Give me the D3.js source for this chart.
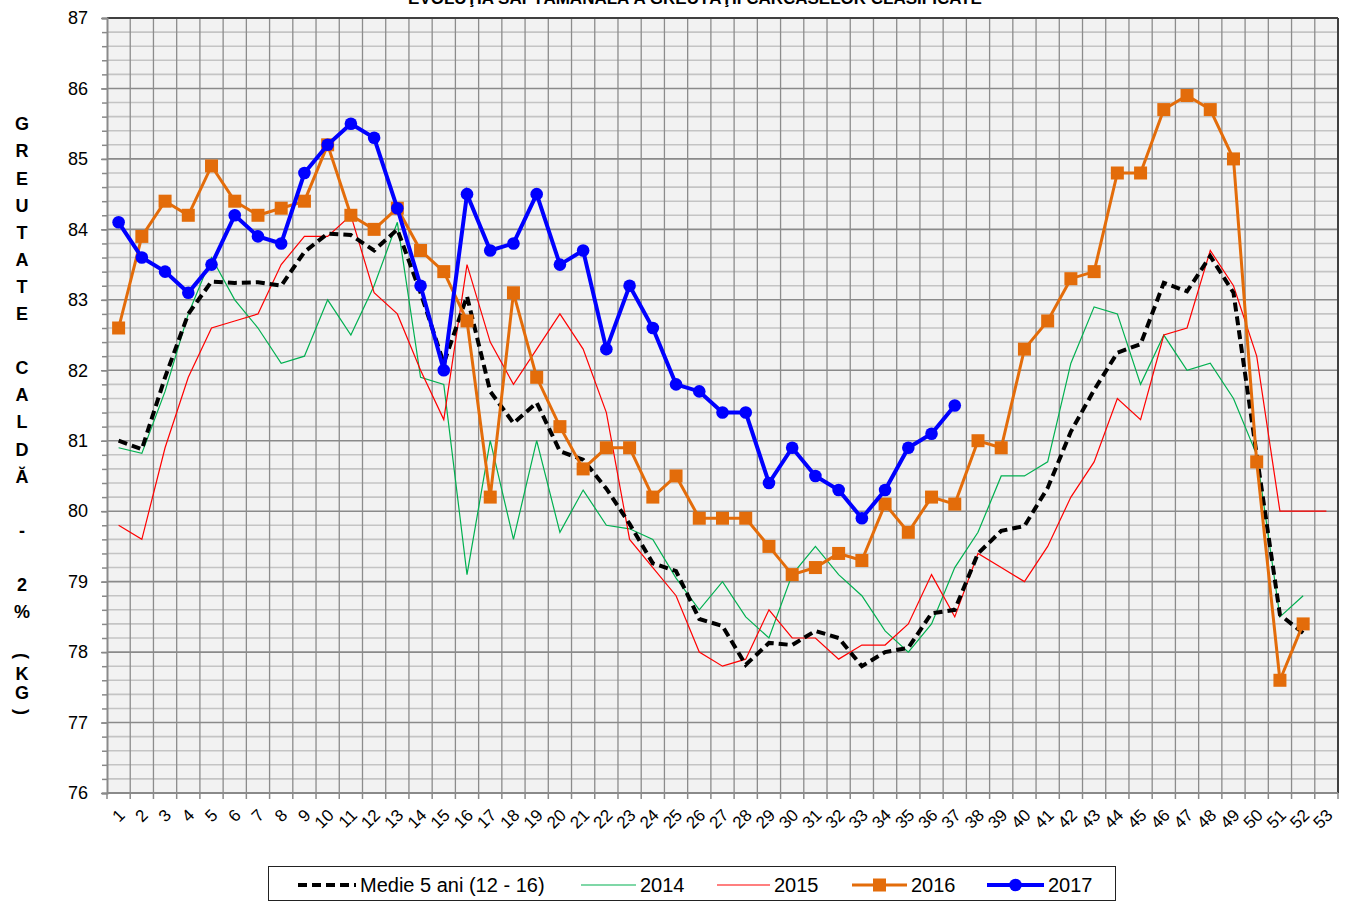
<!DOCTYPE html>
<html lang="ro">
<head>
<meta charset="UTF-8">
<title>Evoluţia săptămânală a greutăţii carcaselor clasificate</title>
<script src="https://cdn.jsdelivr.net/npm/d3@7"></script>
<style>
    body { margin: 0; background: #fff; }
    svg { display: block; font-family: "Liberation Sans", Arial, sans-serif; }
    .ytick text { font-size: 18px; fill: #000; }
    .xtick text { font-size: 17px; fill: #000; }
    .legend text { font-size: 20px; fill: #000; }
</style>
</head>
<body>
<div id="chart"></div>
<script>
    const weeks = ["1","2","3","4","5","6","7","8","9","10","11","12","13","14","15","16","17","18","19","20",
        "21","22","23","24","25","26","27","28","29","30","31","32","33","34","35","36","37","38","39","40",
        "41","42","43","44","45","46","47","48","49","50","51","52","53"];

    const medie = [81.0, 80.88, 81.9, 82.8, 83.26, 83.24, 83.25, 83.2, 83.68, 83.94, 83.92, 83.7, 84.0, 83.1,
        82.1, 83.05, 81.7, 81.25, 81.54, 80.85, 80.73, 80.32, 79.82, 79.26, 79.15, 78.47, 78.37, 77.82, 78.13,
        78.1, 78.3, 78.2, 77.8, 78.0, 78.06, 78.55, 78.6, 79.4, 79.72, 79.79, 80.33, 81.13, 81.72, 82.25, 82.37,
        83.24, 83.12, 83.62, 83.1, 80.8, 78.53, 78.27];

    const y2014 = [80.9, 80.82, 81.7, 82.8, 83.6, 83.0, 82.6, 82.1, 82.2, 83.0, 82.5, 83.2, 84.1, 81.9, 81.8,
        79.1, 81.0, 79.6, 81.0, 79.7, 80.3, 79.8, 79.75, 79.6, 79.05, 78.6, 79.0, 78.5, 78.2, 79.1, 79.5, 79.1,
        78.8, 78.3, 78.0, 78.4, 79.2, 79.7, 80.5, 80.5, 80.7, 82.1, 82.9, 82.8, 81.8, 82.5, 82.0, 82.1, 81.6,
        80.8, 78.5, 78.8];

    const y2015 = [79.8, 79.6, 80.9, 81.9, 82.6, 82.7, 82.8, 83.5, 83.9, 83.9, 84.2, 83.1, 82.8, 82.0, 81.3,
        83.5, 82.4, 81.8, 82.3, 82.8, 82.3, 81.4, 79.6, 79.2, 78.8, 78.0, 77.8, 77.9, 78.6, 78.2, 78.2, 77.9,
        78.1, 78.1, 78.4, 79.1, 78.5, 79.4, 79.2, 79.0, 79.5, 80.2, 80.7, 81.6, 81.3, 82.5, 82.6, 83.7, 83.2,
        82.2, 80.0, 80.0, 80.0];

    const y2016 = [82.6, 83.9, 84.4, 84.2, 84.9, 84.4, 84.2, 84.3, 84.4, 85.2, 84.2, 84.0, 84.3, 83.7, 83.4,
        82.7, 80.2, 83.1, 81.9, 81.2, 80.6, 80.9, 80.9, 80.2, 80.5, 79.9, 79.9, 79.9, 79.5, 79.1, 79.2, 79.4,
        79.3, 80.1, 79.7, 80.2, 80.1, 81.0, 80.9, 82.3, 82.7, 83.3, 83.4, 84.8, 84.8, 85.7, 85.9, 85.7, 85.0,
        80.7, 77.6, 78.4];

    const y2017 = [84.1, 83.6, 83.4, 83.1, 83.5, 84.2, 83.9, 83.8, 84.8, 85.2, 85.5, 85.3, 84.3, 83.2, 82.0,
        84.5, 83.7, 83.8, 84.5, 83.5, 83.7, 82.3, 83.2, 82.6, 81.8, 81.7, 81.4, 81.4, 80.4, 80.9, 80.5, 80.3,
        79.9, 80.3, 80.9, 81.1, 81.5];

    const yMajor = [76, 77, 78, 79, 80, 81, 82, 83, 84, 85, 86, 87];
    const yTitle = "GREUTATE CALDĂ - 2%";

    const W = 1346, H = 902;
    const mLeft = 107, mRight = 1338, mTop = 18, mBottom = 793;

    const svg = d3.select("#chart").append("svg")
        .attr("width", W)
        .attr("height", H);

    const x = d3.scaleBand().domain(weeks).range([mLeft, mRight]);
    const cx = w => x(w) + x.bandwidth() / 2;
    const y = d3.scaleLinear().domain([76, 87]).range([mBottom, mTop]);
    const yMinor = d3.range(760, 871, 2).map(v => v / 10);

    // plot background
    svg.append("rect")
        .attr("x", mLeft).attr("y", mTop)
        .attr("width", mRight - mLeft).attr("height", mBottom - mTop)
        .attr("fill", "#f2f2f2");

    // horizontal grid
    svg.append("g").selectAll("line")
        .data(yMinor.filter(v => Math.abs(v - Math.round(v)) > 0.01))
        .enter().append("line")
        .attr("x1", mLeft).attr("x2", mRight)
        .attr("y1", d => y(d)).attr("y2", d => y(d))
        .attr("stroke", "#c4c4c4").attr("stroke-width", 1.6);

    // vertical grid
    svg.append("g").selectAll("line")
        .data(weeks.slice(1))
        .enter().append("line")
        .attr("x1", d => x(d)).attr("x2", d => x(d))
        .attr("y1", mTop).attr("y2", mBottom)
        .attr("stroke", "#8c8c8c").attr("stroke-width", 1.3);

    svg.append("g").selectAll("line")
        .data(yMajor)
        .enter().append("line")
        .attr("x1", mLeft).attr("x2", mRight)
        .attr("y1", d => y(d)).attr("y2", d => y(d))
        .attr("stroke", "#8a8a8a").attr("stroke-width", 1.6);

    // frame
    svg.append("line").attr("x1", mLeft).attr("x2", mRight).attr("y1", mTop).attr("y2", mTop)
        .attr("stroke", "#404040").attr("stroke-width", 2);
    svg.append("line").attr("x1", mRight).attr("x2", mRight).attr("y1", mTop).attr("y2", mBottom)
        .attr("stroke", "#404040").attr("stroke-width", 2);

    // y axis
    const yAxisMinor = d3.axisLeft(y).tickValues(yMinor).tickSize(5).tickFormat("");
    svg.append("g").attr("transform", `translate(${mLeft},0)`).call(yAxisMinor)
        .call(g => g.selectAll("line").attr("stroke", "#8a8a8a").attr("stroke-width", 1.5))
        .call(g => g.select(".domain").attr("stroke", "#8a8a8a").attr("stroke-width", 2));

    const yAxis = d3.axisLeft(y).tickValues(yMajor).tickSize(6).tickPadding(13).tickFormat(d3.format("d"));
    svg.append("g").attr("class", "ytick").attr("transform", `translate(${mLeft},0)`).call(yAxis)
        .call(g => g.select(".domain").remove())
        .call(g => g.selectAll("line").attr("stroke", "#8a8a8a").attr("stroke-width", 1.5))
        .call(g => g.attr("font-family", null).attr("font-size", null));

    // x axis
    svg.append("line").attr("x1", mLeft).attr("x2", mRight).attr("y1", mBottom).attr("y2", mBottom)
        .attr("stroke", "#8a8a8a").attr("stroke-width", 2);
    svg.append("g").selectAll("line")
        .data(weeks.concat(["end"]))
        .enter().append("line")
        .attr("x1", (d, i) => mLeft + i * x.bandwidth())
        .attr("x2", (d, i) => mLeft + i * x.bandwidth())
        .attr("y1", mBottom).attr("y2", mBottom + 6)
        .attr("stroke", "#8a8a8a").attr("stroke-width", 1.5);

    svg.append("g").attr("class", "xtick").selectAll("text")
        .data(weeks)
        .enter().append("text")
        .attr("transform", d => `translate(${cx(d) + 3},${mBottom + 19}) rotate(-45)`)
        .attr("text-anchor", "end")
        .attr("dy", "0.35em")
        .text(d => d);

    // title (clipped at the top edge, as in the source image)
    svg.append("text")
        .attr("x", 695).attr("y", 4)
        .attr("text-anchor", "middle")
        .attr("font-size", 17).attr("font-weight", "bold")
        .text("EVOLUŢIA SĂPTĂMÂNALĂ A GREUTĂŢII CARCASELOR CLASIFICATE");

    // y axis title, stacked letters
    const yt = svg.append("g").attr("font-size", 18).attr("font-weight", "bold").attr("text-anchor", "middle");
    yTitle.split("").forEach((ch, i) => {
        yt.append("text").attr("x", 22).attr("y", 124 + i * 27.1).attr("dy", "0.35em").text(ch);
    });
    yt.append("text").attr("transform", "translate(22,656) rotate(90)").attr("dy", "0.35em").text("(");
    yt.append("text").attr("x", 22).attr("y", 674).attr("dy", "0.35em").text("K");
    yt.append("text").attr("x", 22).attr("y", 693).attr("dy", "0.35em").text("G");
    yt.append("text").attr("transform", "translate(22,712) rotate(90)").attr("dy", "0.35em").text(")");

    // series
    const line = d3.line().x((d, i) => cx(weeks[i])).y(d => y(d));

    svg.append("path").datum(y2014).attr("d", line)
        .attr("fill", "none").attr("stroke", "#00b050").attr("stroke-width", 1.2);
    svg.append("path").datum(y2015).attr("d", line)
        .attr("fill", "none").attr("stroke", "#ff0000").attr("stroke-width", 1.2);
    svg.append("path").datum(medie).attr("d", line)
        .attr("fill", "none").attr("stroke", "#000").attr("stroke-width", 4)
        .attr("stroke-dasharray", "9,5");

    svg.append("path").datum(y2016).attr("d", line)
        .attr("fill", "none").attr("stroke", "#e36c0a").attr("stroke-width", 3);
    svg.append("g").selectAll("rect")
        .data(y2016)
        .enter().append("rect")
        .attr("x", (d, i) => cx(weeks[i]) - 6.5).attr("y", d => y(d) - 6.5)
        .attr("width", 13).attr("height", 13)
        .attr("fill", "#e36c0a");

    svg.append("path").datum(y2017).attr("d", line)
        .attr("fill", "none").attr("stroke", "#0000ff").attr("stroke-width", 4);
    svg.append("g").selectAll("circle")
        .data(y2017)
        .enter().append("circle")
        .attr("cx", (d, i) => cx(weeks[i])).attr("cy", d => y(d))
        .attr("r", 6.3)
        .attr("fill", "#0000ff");

    // legend
    const lg = svg.append("g").attr("class", "legend");
    lg.append("rect").attr("x", 268.5).attr("y", 866.5).attr("width", 847).attr("height", 34)
        .attr("fill", "#fff").attr("stroke", "#222").attr("stroke-width", 1);
    const ly = 885;
    const items = [
        {name: "Medie 5 ani (12 - 16)", x0: 298, x1: 356, color: "#000", w: 4, dash: "9,5"},
        {name: "2014", x0: 581, x1: 636, color: "#00b050", w: 1.2},
        {name: "2015", x0: 717, x1: 770, color: "#ff0000", w: 1.2},
        {name: "2016", x0: 852, x1: 907, color: "#e36c0a", w: 3, mark: "square"},
        {name: "2017", x0: 987, x1: 1044, color: "#0000ff", w: 4, mark: "circle"}
    ];
    items.forEach(it => {
        lg.append("line").attr("x1", it.x0).attr("x2", it.x1).attr("y1", ly).attr("y2", ly)
            .attr("stroke", it.color).attr("stroke-width", it.w)
            .attr("stroke-dasharray", it.dash || null);
        const mx = (it.x0 + it.x1) / 2;
        if (it.mark === "square") {
            lg.append("rect").attr("x", mx - 6.5).attr("y", ly - 6.5).attr("width", 13).attr("height", 13)
                .attr("fill", it.color);
        } else if (it.mark === "circle") {
            lg.append("circle").attr("cx", mx).attr("cy", ly).attr("r", 6.3).attr("fill", it.color);
        }
        lg.append("text").attr("x", it.x1 + 4).attr("y", ly).attr("dy", "0.35em").text(it.name);
    });
</script>
</body>
</html>
